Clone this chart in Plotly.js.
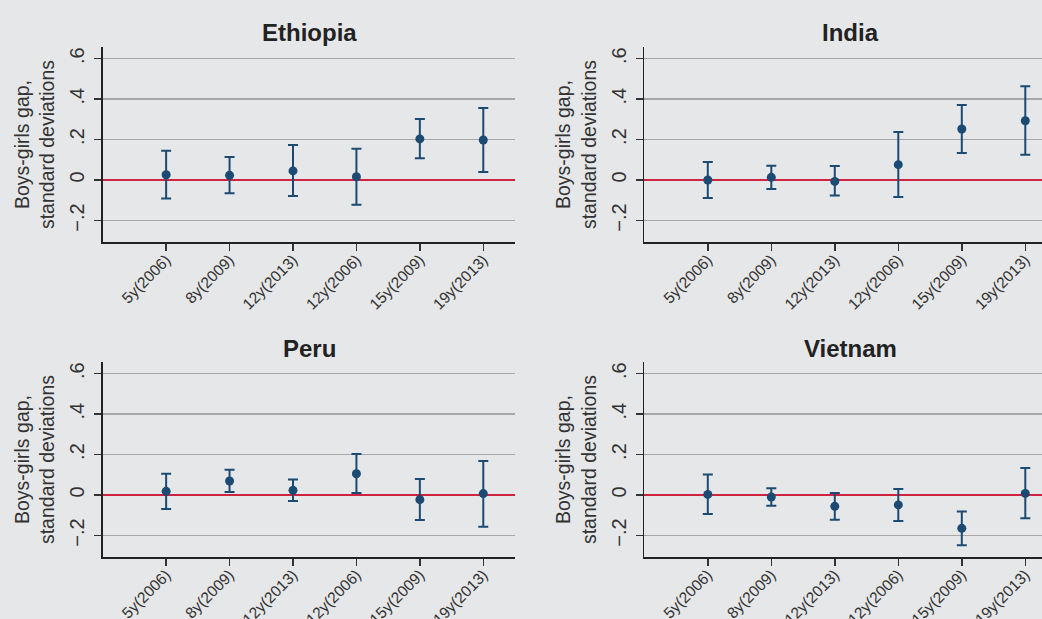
<!DOCTYPE html>
<html>
<head>
<meta charset="utf-8">
<script src="https://cdn.plot.ly/plotly-3.0.1.min.js"></script>
<style>html,body{margin:0;padding:0;background:#e6e7e9;}#chart{width:1042px;height:619px;}</style>
</head>
<body>
<div id="chart"></div>
<script>
// Categories (rounds)
const categories = ["5y(2006)", "8y(2009)", "12y(2013)", "12y(2006)", "15y(2009)", "19y(2013)"];
const catPos = [1, 2, 3, 4, 5, 6];

const countries = ["Ethiopia", "India", "Peru", "Vietnam"];

// Point estimates
const ethiopiaGap = [0.026, 0.023, 0.045, 0.016, 0.203, 0.198];
const indiaGap    = [0.000, 0.013, -0.007, 0.076, 0.252, 0.293];
const peruGap     = [0.018, 0.069, 0.023, 0.105, -0.023, 0.007];
const vietnamGap  = [0.003, -0.010, -0.056, -0.049, -0.165, 0.008];

// Upper CI bounds
const ethiopiaHi = [0.145, 0.114, 0.173, 0.155, 0.302, 0.356];
const indiaHi    = [0.089, 0.071, 0.069, 0.237, 0.371, 0.463];
const peruHi     = [0.105, 0.125, 0.077, 0.203, 0.079, 0.168];
const vietnamHi  = [0.101, 0.033, 0.010, 0.030, -0.082, 0.134];

// Lower CI bounds
const ethiopiaLo = [-0.091, -0.066, -0.079, -0.122, 0.107, 0.040];
const indiaLo    = [-0.089, -0.045, -0.077, -0.084, 0.134, 0.125];
const peruLo     = [-0.069, 0.015, -0.030, 0.010, -0.124, -0.157];
const vietnamLo  = [-0.094, -0.053, -0.122, -0.129, -0.249, -0.115];

const yTickVals = [-0.2, 0, 0.2, 0.4, 0.6];
const yTickText = ["\u2212.2", "0", ".2", ".4", ".6"];
const yTitle = "Boys-girls gap,<br>standard deviations";

const gaps = [ethiopiaGap, indiaGap, peruGap, vietnamGap];
const his = [ethiopiaHi, indiaHi, peruHi, vietnamHi];
const los = [ethiopiaLo, indiaLo, peruLo, vietnamLo];

const W = 1042, H = 619;
const px = v => v / W;
const py = v => 1 - v / H;

const markerColor = "#1b4a73";
const panels = [
  {xl: 102.7, xr: 515,  yt: 46.7,  yb: 242.3, xmax: 6.5},
  {xl: 644.3, xr: 1042, yt: 46.7,  yb: 242.3, xmax: (1042 - 644.3) / 63.5},
  {xl: 102.7, xr: 515,  yt: 361.7, yb: 557.3, xmax: 6.5},
  {xl: 644.3, xr: 1042, yt: 361.7, yb: 557.3, xmax: (1042 - 644.3) / 63.5}
];

const traces = [];
const layout = {
  width: W, height: H,
  margin: {l: 0, r: 0, t: 0, b: 0},
  paper_bgcolor: "#e6e7e9",
  plot_bgcolor: "#e6e7e9",
  showlegend: false,
  font: {family: "Liberation Sans, Arial, sans-serif", color: "#2a2a2a"},
  annotations: []
};

const titleY = [48.5, 48.5, 363.5, 363.5];

panels.forEach((p, i) => {
  const sfx = i === 0 ? "" : String(i + 1);
  const plus = gaps[i].map((g, k) => his[i][k] - g);
  const minus = gaps[i].map((g, k) => g - los[i][k]);
  traces.push({
    type: "scatter", mode: "markers",
    x: catPos, y: gaps[i],
    xaxis: "x" + sfx, yaxis: "y" + sfx,
    marker: {color: markerColor, size: 9},
    error_y: {type: "data", symmetric: false, array: plus, arrayminus: minus,
              color: markerColor, thickness: 2, width: 5},
    hoverinfo: "skip"
  });
  layout["xaxis" + sfx] = {
    domain: [px(p.xl), px(p.xr)],
    range: [0, p.xmax],
    anchor: "y" + sfx,
    tickvals: catPos, ticktext: categories,
    tickangle: -45,
    ticks: "outside", ticklen: 7, tickwidth: 1.5, tickcolor: "#333",
    ticklabelstandoff: -6,
    showline: true, linecolor: "#222", linewidth: 1.5,
    showgrid: false, zeroline: false,
    tickfont: {size: 15.5, color: "#333"},
    fixedrange: true
  };
  layout["yaxis" + sfx] = {
    domain: [py(p.yb), py(p.yt)],
    range: [-0.308, 0.659],
    anchor: "x" + sfx,
    tickvals: yTickVals, ticktext: yTickText,
    tickangle: -90,
    ticks: "outside", ticklen: 7, tickwidth: 1.5, tickcolor: "#333",
    ticklabelstandoff: 2,
    showline: true, linecolor: "#222", linewidth: 1.5,
    showgrid: true, gridcolor: "#a6a7a9", gridwidth: 1.5,
    zeroline: true, zerolinecolor: "#cf2340", zerolinewidth: 2,
    tickfont: {size: 20, color: "#333"},
    title: {text: yTitle, font: {size: 19.5, color: "#333"}, standoff: 6},
    fixedrange: true
  };
  const centerX = p.xl + 63.5 * 6.5 / 2;
  layout.annotations.push({
    text: "<b>" + countries[i] + "</b>",
    xref: "paper", yref: "paper",
    x: px(centerX), y: py(titleY[i]),
    xanchor: "center", yanchor: "bottom",
    showarrow: false,
    font: {size: 24, color: "#222", family: "Liberation Sans Narrow, Liberation Sans, Arial, sans-serif"}
  });
});

Plotly.newPlot("chart", traces, layout, {displayModeBar: false, staticPlot: true});
</script>
</body>
</html>
